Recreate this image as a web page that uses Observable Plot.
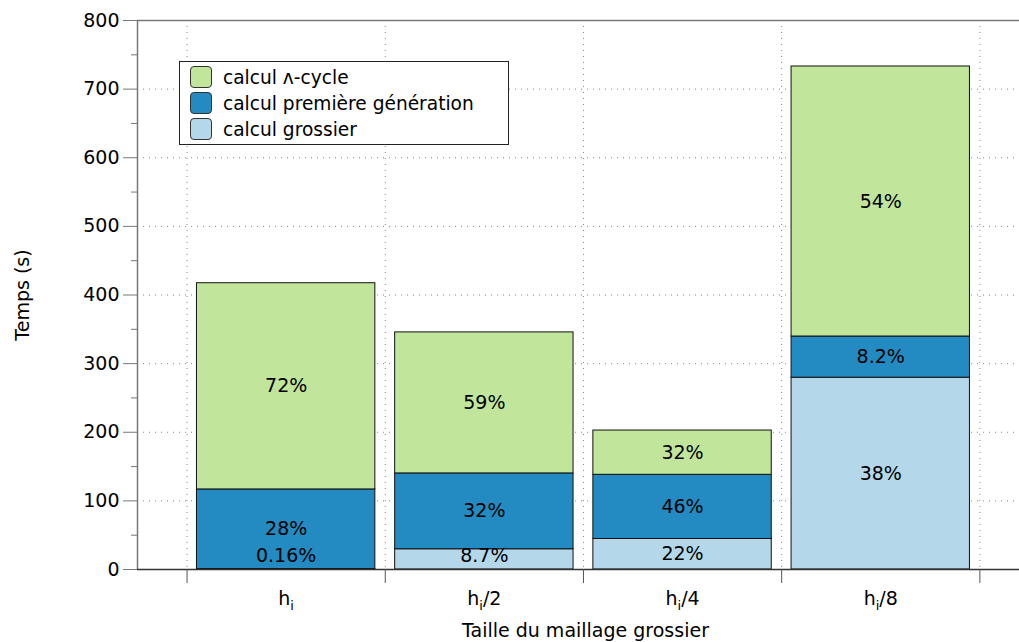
<!DOCTYPE html>
<html><head><meta charset="utf-8">
<script src="https://cdn.jsdelivr.net/npm/d3@7"></script>
<script src="https://cdn.jsdelivr.net/npm/@observablehq/plot@0.6"></script>
<style>
body{margin:0;background:#fff;font-family:"DejaVu Sans",sans-serif;}
#wrap{position:relative;width:1019px;height:642px;overflow:hidden;}
#legend{position:absolute;left:179px;top:61px;width:330px;height:84px;border:1px solid #222;background:#fff;box-sizing:border-box;}
.row{position:absolute;left:10px;height:22px;display:flex;align-items:center;font-size:18.6px;color:#000;white-space:nowrap;}
.sw{width:20px;height:20px;border:1px solid #333;border-radius:4px;margin-right:11px;}
</style></head><body><div id="wrap"></div>
<script>
const categories = ["h_i", "h_i/2", "h_i/4", "h_i/8"];
const seriesNames = ["calcul grossier", "calcul première génération", "calcul ʌ-cycle"];
const grossier = [0.67, 29.5, 44.5, 279.5];
const premiere = [116, 110.5, 93.5, 60];
const lambdaCycle = [300.5, 205.5, 64.5, 393.5];
const grossierLabels = ["0.16%", "8.7%", "22%", "38%"];
const premiereLabels = ["28%", "32%", "46%", "8.2%"];
const lambdaLabels = ["72%", "59%", "32%", "54%"];
const colors = ["#b4d8ea", "#238bc1", "#c1e59b"];
const yTicks = d3.range(0, 801, 100);
const yMinor = d3.range(50, 800, 100);

const rows = [];
categories.forEach((c, i) => {
  let base = 0;
  [[grossier, grossierLabels, 0], [premiere, premiereLabels, 1], [lambdaCycle, lambdaLabels, 2]].forEach(([vals, labs, s]) => {
    rows.push({i, series: seriesNames[s], y1: base, y2: base + vals[i], label: labs[i]});
    base += vals[i];
  });
});
const boundaries = categories.map((c, i) => i - 0.5).concat([categories.length - 0.5]);
const dotted = {stroke: "#888", strokeOpacity: 1, strokeDasharray: "1,5", strokeWidth: 1};

const chart = Plot.plot({
  width: 1019, height: 642,
  marginTop: 20, marginBottom: 73, marginLeft: 137, marginRight: 0,
  style: {fontFamily: "DejaVu Sans", fontSize: "19px", background: "white", color: "black"},
  x: {type: "linear", domain: [-0.75, 3.70], axis: null},
  y: {domain: [0, 800], axis: null},
  color: {domain: seriesNames, range: colors},
  marks: [
    Plot.gridY(d3.range(100, 800, 100), dotted),
    Plot.gridX(boundaries, dotted),
    Plot.rect(rows, {x1: d => d.i - 0.45, x2: d => d.i + 0.45, y1: "y1", y2: "y2", fill: "series", stroke: "#111", strokeWidth: 1}),
    Plot.text(rows, {x: "i", y: d => Math.max((d.y1 + d.y2) / 2, 20), text: "label", fill: "black", fontSize: 19}),
    Plot.ruleX([-0.75], {stroke: "#777", strokeWidth: 1.5}),
    Plot.ruleY([800], {stroke: "#777", strokeWidth: 1.5}),
    Plot.ruleY([0], {stroke: "#333", strokeWidth: 1.5}),
    Plot.axisY({ticks: yTicks, tickSize: 14, tickPadding: 4, stroke: "#777", fontSize: 19, label: null}),
    Plot.axisY({ticks: yMinor, tickSize: 6, tickFormat: () => "", stroke: "#777", label: null}),
    Plot.axisX({ticks: boundaries, tickSize: 14, tickFormat: () => "", stroke: "#555", label: null}),
    Plot.axisX({ticks: categories.map((c, i) => i), tickSize: 0, tickPadding: 22, tickFormat: i => categories[i], fontSize: 19, label: null}),
    Plot.text(["Temps (s)"], {frameAnchor: "left", dx: -115, rotate: -90, textAnchor: "middle", lineAnchor: "middle", fontSize: 19, fill: "black"}),
    Plot.text(["Taille du maillage grossier"], {frameAnchor: "bottom", dy: 61, dx: 7, textAnchor: "middle", lineAnchor: "middle", fontSize: 19, fill: "black"})
  ]
});

// subscript i in tick labels
d3.select(chart).selectAll('g[aria-label="x-axis tick label"] text').each(function() {
  const t = d3.select(this);
  const s = t.text();
  if (!s.startsWith("h_i")) return;
  const rest = s.slice(3);
  t.text(null);
  t.append("tspan").text("h");
  t.append("tspan").attr("dy", "5").attr("font-size", "13").text("i");
  if (rest) t.append("tspan").attr("dy", "-5").text(rest);
});

const wrap = document.getElementById("wrap");
wrap.appendChild(chart);

const legend = document.createElement("div");
legend.id = "legend";
[2, 1, 0].forEach((s, k) => {
  const r = document.createElement("div");
  r.className = "row";
  r.style.top = (4 + k * 26) + "px";
  const sw = document.createElement("div");
  sw.className = "sw";
  sw.style.background = colors[s];
  r.appendChild(sw);
  r.appendChild(document.createTextNode(seriesNames[s]));
  legend.appendChild(r);
});
wrap.appendChild(legend);
</script>
</body></html>
